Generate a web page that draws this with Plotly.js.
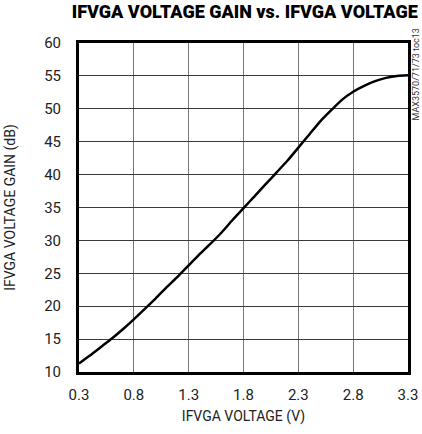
<!DOCTYPE html>
<html>
<head>
<meta charset="utf-8">
<script src="https://cdn.plot.ly/plotly-3.0.1.min.js"></script>
<style>
html,body{margin:0;padding:0;background:#fff;}
</style>
</head>
<body>
<div id="chart" style="width:422px;height:434px;"></div>
<script>
const voltage = [0.3,0.4,0.5,0.6,0.7,0.8,0.9,1.0,1.1,1.2,1.3,1.4,1.5,1.6,1.7,1.8,1.9,2.0,2.1,2.2,2.3,2.4,2.5,2.6,2.7,2.8,2.9,3.0,3.1,3.2,3.3];
const gainDb = [11.3,12.5,13.8,15.1,16.5,18.0,19.6,21.2,22.9,24.5,26.2,27.9,29.5,31.2,33.1,34.9,36.7,38.5,40.3,42.1,44.1,46.1,48.1,49.8,51.4,52.6,53.5,54.2,54.7,55.0,55.1];
const xTicks = [0.3,0.8,1.3,1.8,2.3,2.8,3.3];
const yTicks = [10,15,20,25,30,35,40,45,50,55,60];

const fontFam = 'Roboto, "Liberation Sans", sans-serif';

const trace = {
  x: voltage, y: gainDb, type: 'scatter', mode: 'lines',
  line: {color: '#000', width: 2.5, shape: 'spline', smoothing: 0.6},
  hoverinfo: 'skip'
};

const layout = {
  width: 422, height: 434,
  margin: {l: 79, r: 14, t: 43, b: 62},
  paper_bgcolor: '#fff', plot_bgcolor: '#fff',
  showlegend: false,
  font: {family: fontFam, color: '#222', size: 15},
  title: {
    text: 'IFVGA VOLTAGE GAIN vs. IFVGA VOLTAGE',
    font: {family: fontFam, size: 18, color: '#000', weight: 900},
    xref: 'container', yref: 'container',
    x: 0.58, xanchor: 'center', y: 0.987, yanchor: 'top'
  },
  xaxis: {
    range: [0.3, 3.3], tickmode: 'array', tickvals: xTicks,
    ticktext: xTicks.map(v => v.toFixed(1)),
    showgrid: true, gridcolor: '#777', gridwidth: 1,
    zeroline: false, showline: true, linecolor: '#000', linewidth: 3, mirror: true,
    ticks: '', ticklabelstandoff: 7,
    tickfont: {size: 15, color: '#222'},
    title: {text: 'IFVGA VOLTAGE (V)', font: {size: 14, color: '#222'}, standoff: 9}
  },
  yaxis: {
    range: [10, 60], tickmode: 'array', tickvals: yTicks,
    showgrid: true, gridcolor: '#3a3a3a', gridwidth: 1,
    zeroline: false, showline: true, linecolor: '#000', linewidth: 3, mirror: true,
    ticks: '', ticklabelstandoff: 12,
    tickfont: {size: 15, color: '#222'},
    title: {text: 'IFVGA VOLTAGE GAIN (dB)', font: {size: 14, color: '#222'}, standoff: 26}
  },
  annotations: [{
    text: 'MAX3570/71/73 toc13', xref: 'paper', yref: 'paper',
    x: 1.0, y: 1.05, xanchor: 'left', yanchor: 'top', xshift: 1,
    textangle: -90, showarrow: false,
    font: {family: fontFam, size: 9, color: '#333'}
  }]
};

Plotly.newPlot('chart', [trace], layout, {staticPlot: true, displayModeBar: false});
</script>
</body>
</html>
